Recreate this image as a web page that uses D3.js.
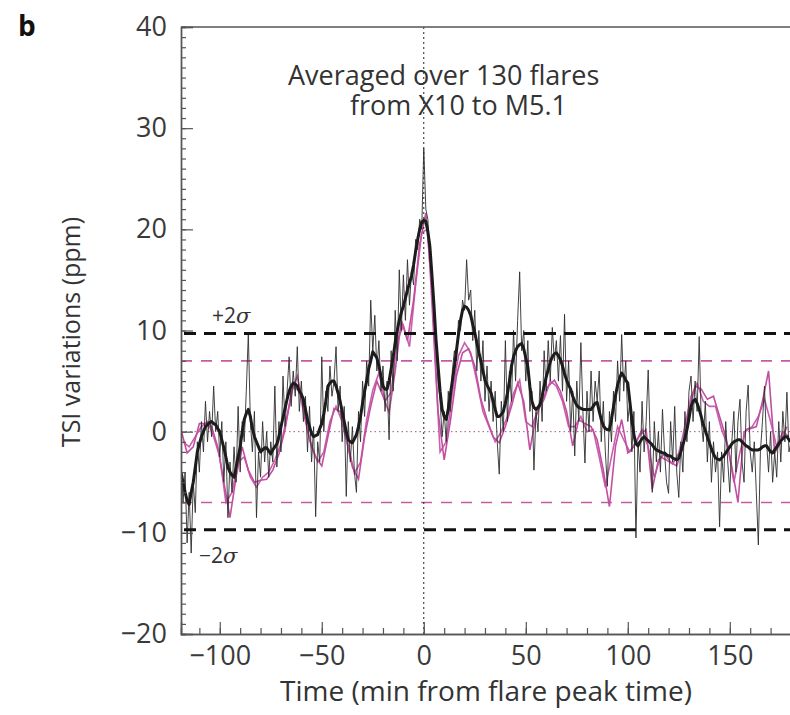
<!DOCTYPE html>
<html>
<head>
<meta charset="utf-8">
<script src="https://cdn.jsdelivr.net/npm/d3@7"></script>
<style>
  body { margin: 0; background: #fff; }
  text { font-family: "Open Sans", "Noto Sans", sans-serif; fill: #333; }
</style>
</head>
<body>
<div id="container"></div>
<script>
// thin black curve, one value per minute, starting at thinStart
var thinStart = -119;
var thinVals = [
  -3, -7, -4, -11, -6, -12, -5, -8, -1, -4,
  1, -2, 3, -1, 2, -0.5, 4.5, 0, 2, -2.5,
  1, -5, -1, -8.5, -3, -6, -1.5, -5, 2.5, -4,
  1, -1, 4, 9.7, 1, -2, 2, -8.5, -2, -4.5,
  1, -3, 0, -4.5, -1, -3, 4.5, -3.5, 1, -2,
  5.5, 0.5, 4, 7.4, 2.5, 6, 3.5, 8.4, 2, 5,
  1, 3.5, -2, 2.5, -3, 0.5, -8.4, -1, -3, 7.4,
  0, 4, 2, 6.5, 3.5, 5, 8.4, 2, 4.5, -1,
  2.5, -6.4, 1, -3, 0.5, -4, -6, 2, -1, 5,
  1.5, 7, 4.5, 13, 8, 11.5, 6, 9, 4, 6.5,
  2, 5, -0.8, 8, 4, 12, 7, 16, 10, 15.5,
  11, 17, 12.5, 16, 14.5, 19, 18, 21, 20, 28,
  22, 21, 17, 16, 11, 9, 5, 3, -0.5, 2,
  -1, 4, 2, 6, 8, 7, 11, 10, 13, 12,
  17, 13, 14, 9, 12, 6, 10, 5, 9, 3,
  6.5, 2, 5, 1, 4, -1, -4.2, 3, 0, 9,
  1, 6, 3, 10, 5, 11, 15.8, 8, 10, 5,
  9, 2, 4, -3.8, 2, 0, 5, 1, 8, 4,
  9, 5, 10.3, 7, 9, 5, 9.5, 4, 11.6, 3,
  7, 0, 4, -2.4, 5, 1, 8.8, 2, -3.1, 4,
  0, 6, 1, 5, 3, 6, -1, 3, -2, -5.4,
  2, -1, 4, 1, 7, 3, 9.6, 4, 7, 1,
  3, -2, 2, -10.5, -1, -4, 3, -2, 1, 6.1,
  -1, -6, 1, -3, 0, -4, 2.2, -2, -5, -6.1,
  1, -3, 2.5, -4, -6.5, -1, -4, 2, -1, 4,
  5.5, 1, 5, 2, 9.4, 1, -1, 3, -3, 1,
  -5, -1, -4, -2, -9.4, -2, -5, 1, -3, -6,
  -1, 2, -4, 1, 3.2, -3, -5, 2, 4.6, -2,
  -4, -1, -6, -11.2, -2, 1, 4.5, -1, -4, 0,
  -5, -2, -4.5, 1, -3, 2, -1, 3.9, -2, -1
];
// thick black (smoothed) curve, same minutes
var smoothVals = [
  -4, -5, -6, -6.8, -7.2, -6, -5, -3.5, -2, -1.2,
  -0.5, 0, 0.5, 0.7, 0.9, 1, 0.8, 0.7, 0.3, 0,
  -0.8, -1.6, -2.5, -3.5, -4, -4.3, -4.5, -3.5, -2.5, -1.5,
  0, 1.2, 1.8, 2.2, 1.5, 0.3, -0.5, -1, -1.5, -2,
  -1.8, -1.6, -1.6, -1.9, -2.2, -1.8, -1.5, -1.2, -0.5, 0.5,
  1.4, 2.3, 3.2, 4, 4.5, 4.8, 4.7, 4.5, 4, 3.7,
  3.2, 2.2, 1.2, 0.5, -0.2, -0.5, -0.4, -0.3, 0.3, 0.8,
  1.8, 3, 4.5, 4.8, 5, 5, 4.5, 3.8, 3, 2,
  1, 0, -0.8, -1, -1.1, -0.7, -0.3, 0.5, 1.5, 2.8,
  4, 5, 6.2, 7, 7.9, 7.6, 7.3, 6.5, 5.5, 4.5,
  4.2, 4.2, 5, 6.2, 7.4, 8.8, 10, 11, 11.8, 12.4,
  13.2, 14, 14.7, 15.4, 16.5, 17.8, 19, 20, 20.7, 20.9,
  20.8, 19.8, 18.3, 15.5, 12.5, 9.1, 6.5, 4, 2.2, 1.5,
  1.2, 2.2, 3.6, 5, 6.4, 8, 9.6, 11, 12, 12.4,
  12.3, 12, 11.5, 10.6, 9.8, 8.8, 7.8, 7, 6, 5.1,
  4.6, 4.2, 3.8, 3, 2.2, 1.5, 1.5, 1.7, 2, 2.8,
  3.8, 5, 6.5, 7.4, 8, 8.4, 8.6, 8.7, 8.2, 7.3,
  6.4, 4.5, 3, 2.4, 2.2, 2.4, 2.7, 3.5, 4.5, 5.4,
  6.1, 6.9, 7.4, 7.7, 7.8, 7.5, 7.1, 6.5, 5.7, 5.1,
  4.6, 4.2, 3.5, 3, 2.6, 2.4, 2.3, 2.2, 2.2, 2.2,
  2.2, 2.2, 2.5, 2.8, 2.9, 2, 1.2, 0.6, 0.3, 0.2,
  0.2, 1.2, 2.5, 3.6, 4.6, 5.3, 5.8, 5.5, 5.1, 4.8,
  3, 1.2, -0.3, -1.2, -1.4, -1, -0.7, -0.5, -0.7, -0.9,
  -1.1, -1.3, -1.6, -1.8, -1.9, -2, -2.1, -2.1, -2.3, -2.4,
  -2.4, -2.6, -2.7, -2.8, -2.6, -2, -1.3, -0.6, 0.2, 1.3,
  2.5, 3, 3.2, 2.8, 2.2, 1.5, 0.7, 0.1, -0.5, -1.1,
  -1.7, -2.2, -2.6, -2.7, -2.8, -2.6, -2.4, -2.1, -1.8, -1.5,
  -1.2, -1, -0.9, -0.8, -0.8, -1, -1.2, -1.4, -1.5, -1.7,
  -1.8, -1.8, -1.8, -1.8, -1.7, -1.5, -1.4, -1.4, -1.7, -2,
  -2.1, -1.8, -1.5, -1.2, -0.9, -0.7, -0.5, -0.5, -0.8, -1
];
// two magenta curves, one value every 3 minutes
var magAStart = -119, magBStart = -118, magStep = 3;
var magAVals = [
  0.2, -2.1, -1.5, 0.8, 0.8, 0.5, -1.5, -5, -8.5, -4.5,
  -1.5, -3.8, -5, -4.8, -4.7, -3.8, -2.2, 0.2, 3.8, 5.5,
  2.5, -0.8, -2.5, -3.4, -0.5, 2.3, 2, -0.8, -3.5, -4.7,
  -0.5, 2.5, 5, 3.5, 1.9, 6, 11, 9, 13, 18.5,
  21.6, 14, 2, -2.8, 1, 5.5, 7.8, 8.2, 6.5, 3.2,
  1.2, -0.5, -1.1, 0.5, 2.5, 4.8, 3, -1.8, 1.5, 3,
  4.5, 5.1, 4, 2, -1.4, 1.2, 0.8, 0.5, -0.8, -3.8,
  -7.4, -1.4, 1.2, -2.1, -1.5, -0.3, 0.2, -5.7, -2.8, -2.2,
  -3, -3.4, -1.5, 2, 4.5, 4.2, 3.2, 3.5, 1.5, -0.5,
  -3.5, -7, 0, 0.3, 0.5, 3, 6, -2.1, -1, 0.5
];
var magBVals = [
  -1, -1.5, -0.5, 0.5, 1, -0.5, -2.5, -7, -6, -3,
  -2.5, -4.5, -5.5, -4.5, -4, -2.8, -1.2, 1.5, 4.5, 4,
  1, -1.5, -3, -2, 1, 2.5, 1, -1.4, -4.1, -3,
  1.2, 4.1, 5.8, 3, 3.9, 9, 10.5, 8.4, 14.5, 19.7,
  20, 9, -2, -1, 3.8, 7.5, 8.8, 7.8, 5, 2,
  0.5, -1, 0, 1.5, 3.8, 5.1, 1, 0.5, 2.2, 3.2,
  5, 4.5, 3, 0.5, 0.5, 1.5, 0, 0.2, -2.5, -5.5,
  -2.5, 0.5, -0.8, -2, -1, 0.2, -1.5, -4.5, -2.5, -2.8,
  -3.2, -2.1, 0.5, 3.5, 4.8, 3, 2.5, 2.5, 0.2, -1.4,
  -5, -2, 0.2, 0.5, 1.5, 3.2, 1, -1.5, 0, -0.5
];
// 2 sigma levels
var sigmaBlack = 9.7, sigmaMag = 7.0;

var margin = {top: 27, right: 0, bottom: 81, left: 181},
    width = 610,
    height = 607;

var svg = d3.select("#container")
  .append("svg")
    .attr("width", 790)
    .attr("height", 715)
  .append("g")
    .attr("transform", "translate(" + margin.left + "," + margin.top + ")");

var x = d3.scaleLinear().domain([-119, 180]).range([0, width]);
var y = d3.scaleLinear().domain([-20, 40]).range([height, 0]);

svg.append("defs").append("clipPath")
    .attr("id", "clip")
  .append("rect")
    .attr("width", width)
    .attr("height", height);

function toPts(start, step, vals) {
  return vals.map(function(v, i) { return {t: start + i * step, v: v}; });
}
var thin = toPts(thinStart, 1, thinVals),
    smooth = toPts(thinStart, 1, smoothVals),
    magA = toPts(magAStart, magStep, magAVals),
    magB = toPts(magBStart, magStep, magBVals);

var line = d3.line()
    .x(function(d) { return x(d.t); })
    .y(function(d) { return y(d.v); });

var plot = svg.append("g").attr("clip-path", "url(#clip)");

// reference lines
plot.append("line")
    .attr("x1", 0).attr("x2", width)
    .attr("y1", y(0)).attr("y2", y(0))
    .style("stroke", "#8a4a7c").style("stroke-width", 0.9)
    .style("stroke-dasharray", "1.5,3");

[sigmaMag, -sigmaMag].forEach(function(s) {
  plot.append("line")
      .attr("x1", 0).attr("x2", width)
      .attr("y1", y(s)).attr("y2", y(s))
      .style("stroke", "#c45ba6").style("stroke-width", 1.6)
      .style("stroke-dasharray", "11,9");
});

// data
plot.append("path").datum(magB).attr("d", line)
    .style("fill", "none").style("stroke", "#c95fae").style("stroke-width", 1.6);
plot.append("path").datum(magA).attr("d", line)
    .style("fill", "none").style("stroke", "#c0509f").style("stroke-width", 1.6);
plot.append("path").datum(thin).attr("d", line)
    .style("fill", "none").style("stroke", "#2e2e2e").style("stroke-width", 0.9);
plot.append("path").datum(smooth).attr("d", line)
    .style("fill", "none").style("stroke", "#1c1c1c").style("stroke-width", 3)
    .style("stroke-linejoin", "round");

[sigmaBlack, -sigmaBlack].forEach(function(s) {
  plot.append("line")
      .attr("x1", 3).attr("x2", width)
      .attr("y1", y(s)).attr("y2", y(s))
      .style("stroke", "#111").style("stroke-width", 3)
      .style("stroke-dasharray", "12,8");
});

plot.append("line")
    .attr("x1", x(0)).attr("x2", x(0))
    .attr("y1", 0).attr("y2", height)
    .style("stroke", "#222").style("stroke-width", 1)
    .style("stroke-dasharray", "2,3");

// axes
var yMinor = svg.append("g")
    .call(d3.axisLeft(y).ticks(60).tickSize(-5).tickFormat(""));
var yAxis = svg.append("g")
    .call(d3.axisLeft(y).tickValues([-20, -10, 0, 10, 20, 30, 40])
      .tickSize(-12).tickPadding(14));
var xMinor = svg.append("g")
    .attr("transform", "translate(0," + height + ")")
    .call(d3.axisBottom(x).tickValues(d3.range(-110, 181, 10)).tickSize(-6).tickFormat(""));
var xAxis = svg.append("g")
    .attr("transform", "translate(0," + height + ")")
    .call(d3.axisBottom(x).tickValues([-100, -50, 0, 50, 100, 150])
      .tickSize(-12).tickPadding(12));

svg.selectAll(".domain").style("stroke", "#555").style("stroke-width", 1.4);
svg.selectAll(".tick line").style("stroke", "#555").style("stroke-width", 1.2);
svg.selectAll(".tick text")
    .style("font-size", "27px")
    .style("font-family", "'Open Sans', sans-serif")
    .style("fill", "#3a3a3a");

// top frame line
svg.append("line")
    .attr("x1", 0).attr("x2", width)
    .attr("y1", 0).attr("y2", 0)
    .style("stroke", "#555").style("stroke-width", 1.4);

// labels
svg.append("text")
    .attr("x", 107).attr("y", 58)
    .style("font-size", "27px")
    .text("Averaged over 130 flares");
svg.append("text")
    .attr("x", 169).attr("y", 88)
    .style("font-size", "27px")
    .text("from X10 to M5.1");

var sig = svg.append("text")
    .attr("x", 31).attr("y", 296)
    .style("font-size", "21px");
sig.append("tspan").text("+2");
sig.append("tspan").style("font-style", "italic")
    .style("font-family", "'DejaVu Serif', serif").text("σ");

var sig2 = svg.append("text")
    .attr("x", 18).attr("y", 536)
    .style("font-size", "21px");
sig2.append("tspan").text("−2");
sig2.append("tspan").style("font-style", "italic")
    .style("font-family", "'DejaVu Serif', serif").text("σ");

svg.append("text")
    .attr("x", 305).attr("y", height + 67)
    .style("text-anchor", "middle")
    .style("font-size", "28px")
    .text("Time (min from flare peak time)");

svg.append("text")
    .attr("transform", "rotate(-90)")
    .attr("x", 0 - 305).attr("y", 0 - margin.left + 80)
    .style("text-anchor", "middle")
    .style("font-size", "25px")
    .text("TSI variations (ppm)");

d3.select("svg").append("text")
    .attr("x", 18).attr("y", 36)
    .style("font-size", "28px")
    .style("font-weight", "bold")
    .style("font-family", "'Open Sans', sans-serif")
    .style("fill", "#111")
    .text("b");
</script>
</body>
</html>
